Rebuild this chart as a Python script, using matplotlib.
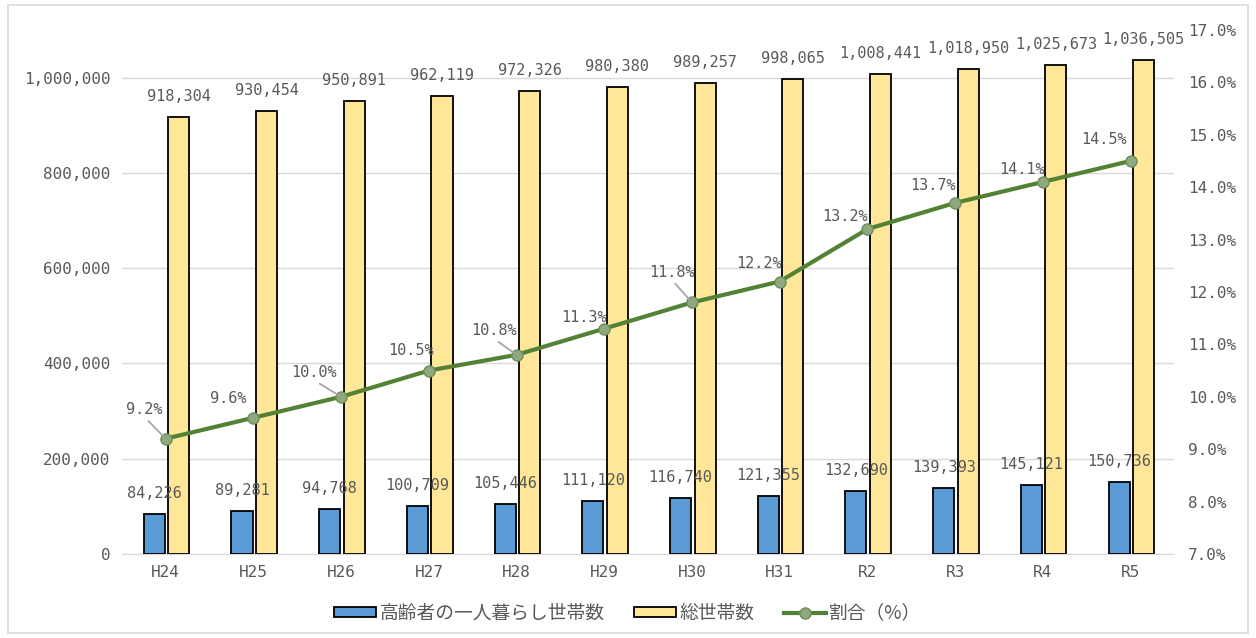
import matplotlib
matplotlib.use('Agg')
import matplotlib.pyplot as plt
import numpy as np
from matplotlib.ticker import FuncFormatter
from matplotlib.lines import Line2D
from matplotlib.patches import Patch, Rectangle

plt.rcParams['font.family'] = ['DejaVu Sans Mono', 'Noto Sans CJK JP']

years = ['H24', 'H25', 'H26', 'H27', 'H28', 'H29', 'H30', 'H31', 'R2', 'R3', 'R4', 'R5']
single = [84226, 89281, 94768, 100709, 105446, 111120, 116740, 121355, 132690, 139393, 145121, 150736]
total = [918304, 930454, 950891, 962119, 972326, 980380, 989257, 998065, 1008441, 1018950, 1025673, 1036505]
ratio = [9.2, 9.6, 10.0, 10.5, 10.8, 11.3, 11.8, 12.2, 13.2, 13.7, 14.1, 14.5]

# label offsets (pixels) for the percentage labels, and whether a leader line shows
pct_off = [(-21, 29), (-25, 19), (-27, 24), (-18, 20), (-23, 24), (-20, 11),
           (-20, 30), (-21, 18), (-22, 13), (-22, 17), (-21, 12), (-27, 21)]
leader = [True, False, True, False, True, False, True, False, False, False, False, False]

gray = '#595959'
x = np.arange(len(years))

fig = plt.figure(figsize=(12.56, 6.38), dpi=100)
ax = fig.add_axes([0.097, 0.1317, 0.838, 0.8213])
ax2 = ax.twinx()

w = 0.24
ax.bar(x - 0.13, single, w, color='#5B9BD5', edgecolor='black', linewidth=1.3, zorder=3)
ax.bar(x + 0.15, total, w, color='#FFE699', edgecolor='black', linewidth=1.3, zorder=3)

for xi, v in zip(x, single):
    ax.annotate(f'{v:,}', (xi - 0.13, v), xytext=(0, 13), textcoords='offset pixels',
                ha='center', va='bottom', fontsize=11, color=gray, zorder=5)
for xi, v in zip(x, total):
    ax.annotate(f'{v:,}', (xi + 0.15, v), xytext=(0, 13), textcoords='offset pixels',
                ha='center', va='bottom', fontsize=11, color=gray, zorder=5)

ax.set_ylim(0, 1100000)
ax.set_yticks(range(0, 1000001, 200000))
ax.yaxis.set_major_formatter(FuncFormatter(lambda v, p: f'{int(v):,}'))
ax.set_xlim(-0.5, len(years) - 0.5)
ax.set_xticks(x)
ax.set_xticklabels(years)
ax.grid(axis='y', color='#d9d9d9', linewidth=1, zorder=0)
ax.set_axisbelow(True)
for s in ['top', 'right', 'left']:
    ax.spines[s].set_visible(False)
    ax2.spines[s].set_visible(False)
ax.spines['bottom'].set_color('#d9d9d9')
ax2.spines['bottom'].set_visible(False)
ax.tick_params(axis='both', length=0, labelsize=11.5, colors=gray, pad=8)

ax2.plot(x, ratio, color='#548235', linewidth=3, marker='o', markersize=8,
         markerfacecolor='#8FA97E', markeredgecolor='#6E8F5A', markeredgewidth=1, zorder=4)
ax2.set_ylim(7, 17)
ax2.set_yticks(np.arange(7, 17.1, 1))
ax2.yaxis.set_major_formatter(FuncFormatter(lambda v, p: f'{v:.1f}%'))
ax2.tick_params(axis='y', length=0, labelsize=11.5, colors=gray, pad=10)

for xi, v, (dx, dy), ld in zip(x, ratio, pct_off, leader):
    ap = dict(arrowstyle='-', color='#a6a6a6', lw=1.3, shrinkA=1, shrinkB=3,
              relpos=(0.5, 0)) if ld else None
    ax2.annotate(f'{v:.1f}%', (xi, v), xytext=(dx, dy), textcoords='offset pixels',
                 ha='center', va='center', fontsize=11, color=gray, arrowprops=ap, zorder=5)

handles = [Patch(facecolor='#5B9BD5', edgecolor='black', linewidth=1.3),
           Patch(facecolor='#FFE699', edgecolor='black', linewidth=1.3),
           Line2D([0], [0], color='#548235', linewidth=3, marker='o', markersize=8,
                  markerfacecolor='#8FA97E', markeredgecolor='#6E8F5A')]
labels = ['高齢者の一人暮らし世帯数', '総世帯数', '割合（%）']
fig.legend(handles, labels, loc='center', bbox_to_anchor=(0.5, 0.039), ncol=3, frameon=False,
           prop={'family': ['Noto Sans CJK JP'], 'size': 13.5}, labelcolor=gray,
           handlelength=2.2, handleheight=0.45, columnspacing=1.6, handletextpad=0.2)

fig.patches.append(Rectangle((0.006, 0.008), 0.988, 0.984, transform=fig.transFigure,
                             fill=False, edgecolor='#d9d9d9', linewidth=1.2))

fig.savefig('out.png', dpi=100)
